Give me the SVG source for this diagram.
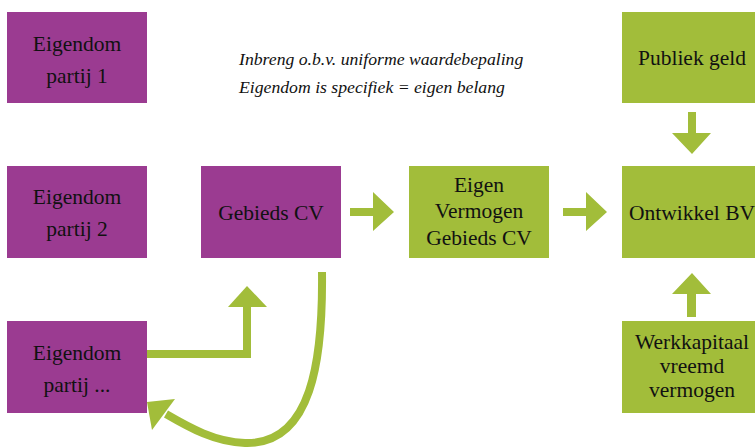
<svg xmlns="http://www.w3.org/2000/svg" width="755" height="448" viewBox="0 0 755 448">
<style>
.p{fill:#9B3B91}
.g{fill:#A2BD3A}
.t{font-family:'Liberation Serif','Times New Roman',serif;font-size:21.5px;fill:#111;text-anchor:middle}
.i{font-family:'Liberation Serif','Times New Roman',serif;font-size:17.7px;font-style:italic;fill:#111}
.a{fill:#A2BD3A}
.s{fill:none;stroke:#A2BD3A;stroke-width:8}
</style>
<rect width="755" height="448" fill="#fff"/>
<g id="partij1"><rect class="p" x="7" y="12" width="140" height="91"/><text class="t" x="77" y="51">Eigendom</text><text class="t" x="77" y="83">partij 1</text></g>
<g id="partij2"><rect class="p" x="7" y="166" width="140" height="92"/><text class="t" x="77" y="204">Eigendom</text><text class="t" x="77" y="236">partij 2</text></g>
<g id="partij3"><rect class="p" x="7" y="321" width="140" height="92"/><text class="t" x="77" y="360">Eigendom</text><text class="t" x="77" y="392">partij ...</text></g>
<g id="gebiedscv"><rect class="p" x="201" y="166" width="140" height="92"/><text class="t" x="271" y="220">Gebieds CV</text></g>
<g id="eigenvermogen"><rect class="g" x="409" y="166" width="140" height="92"/><text class="t" x="479" y="192">Eigen</text><text class="t" x="479" y="218">Vermogen</text><text class="t" x="479" y="245">Gebieds CV</text></g>
<g id="publiek"><rect class="g" x="622" y="12" width="140" height="91"/><text class="t" x="692" y="65">Publiek geld</text></g>
<g id="ontwikkel"><rect class="g" x="622" y="166" width="140" height="92"/><text class="t" x="692" y="220">Ontwikkel BV</text></g>
<g id="werkkapitaal"><rect class="g" x="622" y="321" width="140" height="92"/><text class="t" x="692" y="349">Werkkapitaal</text><text class="t" x="692" y="373">vreemd</text><text class="t" x="692" y="397">vermogen</text></g>
<g id="note"><text class="i" x="239" y="65">Inbreng o.b.v. uniforme waardebepaling</text><text class="i" x="239" y="93">Eigendom is specifiek = eigen belang</text></g>
<g id="connectors">
<polygon class="a" points="350,208 373,208 373,192 394,212 373,231 373,216 350,216"/>
<polygon class="a" points="563,208 586,208 586,192 607,212 586,231 586,216 563,216"/>
<polygon class="a" points="688,112 696,112 696,133 711,133 692,154 672,133 688,133"/>
<polygon class="a" points="687,317 696,317 696,294 711,294 692,273 672,294 687,294"/>
<polyline class="s" points="147,354 247,354 247,305"/>
<polygon class="a" points="228,307 247,286 267,307"/>
<path class="s" d="M322,272 C323,360 312,445 245,443 C215,442 190,428 166,414"/>
<polygon class="a" points="147,402 175,399 152,430"/>
</g>
</svg>
